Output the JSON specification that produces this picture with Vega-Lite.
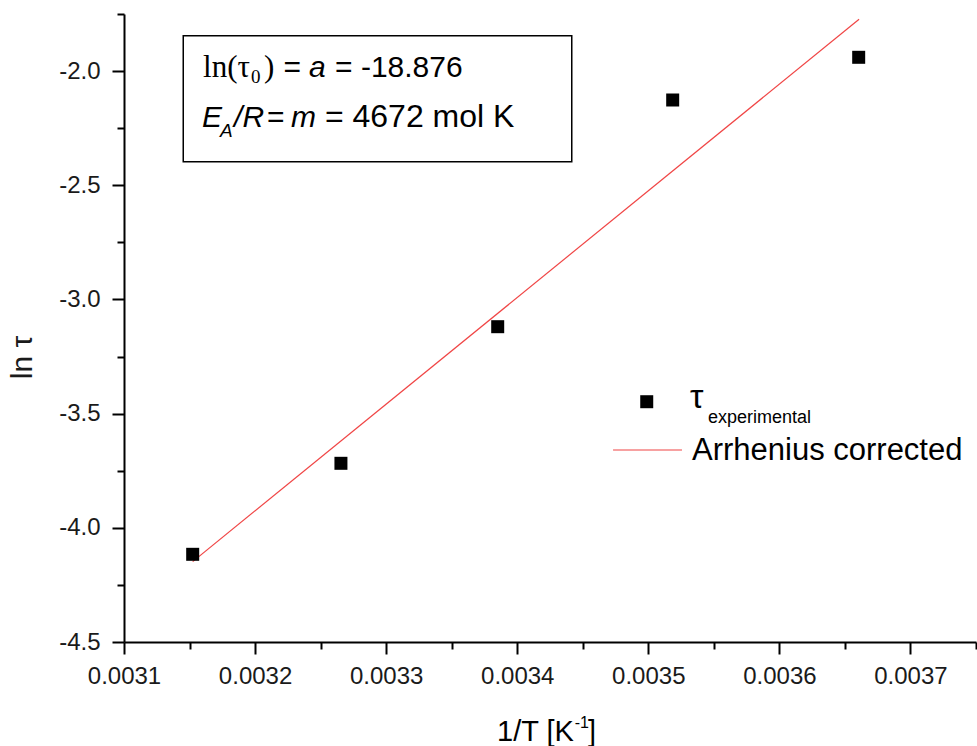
{
  "$schema": "https://vega.github.io/schema/vega-lite/v6.json",
  "width": 852,
  "height": 628,
  "autosize": {"type": "none"},
  "padding": {"left": 124, "top": 14, "right": 1, "bottom": 104},
  "background": "white",
  "config": {"view": {"stroke": null}, "axis": {"grid": false}},
  "datasets": {
    "points": [
      {"invT": 0.0031524, "lnTau": -4.116},
      {"invT": 0.0032655, "lnTau": -3.7175},
      {"invT": 0.0033851, "lnTau": -3.1193},
      {"invT": 0.0035186, "lnTau": -2.1266},
      {"invT": 0.0036605, "lnTau": -1.9396}
    ],
    "fit": [
      {"invT": 0.0031524, "lnTau": -4.148},
      {"invT": 0.0036608, "lnTau": -1.773}
    ]
  },
  "encoding": {
    "x": {"field": "invT", "type": "quantitative",
      "scale": {"domain": [0.0031, 0.00375], "nice": false, "zero": false},
      "axis": {
        "values": [0.0031, 0.00315, 0.0032, 0.00325, 0.0033, 0.00335, 0.0034, 0.00345, 0.0035, 0.00355, 0.0036, 0.00365, 0.0037, 0.00375],
        "labelExpr": "round(datum.value*100000)%10==0 ? format(datum.value,'.4f') : ''",
        "tickSize": {"condition": {"test": "round(datum.value*100000)%10==0", "value": 12}, "value": 7},
        "tickWidth": 2, "tickColor": "black", "domainWidth": 2, "domainColor": "black",
        "labelFont": "Liberation Sans", "labelFontSize": 24, "labelColor": "#1a1a1a",
        "labelPadding": 10, "labelFlush": false, "labelOverlap": false, "title": null
      }
    },
    "y": {"field": "lnTau", "type": "quantitative",
      "scale": {"domain": [-4.5, -1.75], "nice": false, "zero": false},
      "axis": {
        "values": [-4.5, -4.25, -4.0, -3.75, -3.5, -3.25, -3.0, -2.75, -2.5, -2.25, -2.0, -1.75],
        "labelExpr": "round(datum.value*4)%2==0 ? (datum.value<0?'-':'') + format(abs(datum.value),'.1f') : ''",
        "tickSize": {"condition": {"test": "round(datum.value*4)%2==0", "value": 12}, "value": 7},
        "tickWidth": 2, "tickColor": "black", "domainWidth": 2, "domainColor": "black",
        "labelFont": "Liberation Sans", "labelFontSize": 24, "labelColor": "#1a1a1a",
        "labelPadding": 12, "labelFlush": false, "labelOverlap": false,
        "title": "ln τ", "titleFont": "Liberation Sans", "titleFontSize": 30, "titleFontWeight": "normal",
        "titleColor": "#1a1a1a", "titleX": -93, "titleY": 343, "titleAngle": 270,
        "titleAlign": "center", "titleBaseline": "alphabetic"
      }
    }
  },
  "layer": [
    {
      "data": {"values": [{"invT": 0.0031452, "x2": 0.0034416, "lnTau": -1.845, "y2": -2.3968}]},
      "mark": {"type": "rect", "fill": "white", "stroke": "black", "strokeWidth": 1.5},
      "encoding": {"x2": {"field": "x2"}, "y2": {"field": "y2"}}
    },
    {
      "data": {"name": "fit"},
      "mark": {"type": "line", "color": "#f04545", "strokeWidth": 1.2}
    },
    {
      "data": {"name": "points"},
      "mark": {"type": "square", "size": 169, "filled": true, "color": "black", "opacity": 1}
    },
    {
      "data": {"values": [{"invT": 0.0034988, "lnTau": -3.4478}]},
      "mark": {"type": "square", "size": 169, "filled": true, "color": "black", "opacity": 1}
    },
    {
      "data": {"values": [{"invT": 0.0034731, "x2": 0.0035257, "lnTau": -3.6593}]},
      "mark": {"type": "rule", "color": "#f04545", "strokeWidth": 1.2},
      "encoding": {"x2": {"field": "x2"}}
    },
    {
      "data": {"values": [
        {"text": "ln(τ", "invT": 0.0031603, "lnTau": -2.0246},
        {"text": ")", "invT": 0.0032068, "lnTau": -2.0246}
      ]},
      "mark": {"type": "text", "font": "Liberation Serif", "fontSize": 31, "align": "left", "baseline": "alphabetic", "color": "black"},
      "encoding": {"text": {"field": "text"}}
    },
    {
      "data": {"values": [{"text": "0", "invT": 0.0031969, "lnTau": -2.0522}]},
      "mark": {"type": "text", "font": "Liberation Serif", "fontSize": 19, "align": "left", "baseline": "alphabetic", "color": "black"},
      "encoding": {"text": {"field": "text"}}
    },
    {
      "data": {"values": [
        {"text": "=", "invT": 0.0032217, "lnTau": -2.0246},
        {"text": "= -18.876", "invT": 0.003261, "lnTau": -2.0246},
        {"text": "=", "invT": 0.0032091, "lnTau": -2.2435}
      ]},
      "mark": {"type": "text", "font": "Liberation Sans", "fontSize": 30, "align": "left", "baseline": "alphabetic", "color": "black"},
      "encoding": {"text": {"field": "text"}}
    },
    {
      "data": {"values": [
        {"text": "= 4672 mol K", "invT": 0.0032533, "lnTau": -2.2435}
      ]},
      "mark": {"type": "text", "font": "Liberation Sans", "fontSize": 32, "align": "left", "baseline": "alphabetic", "color": "black"},
      "encoding": {"text": {"field": "text"}}
    },
    {
      "data": {"values": [{"text": "τ", "invT": 0.0035318, "lnTau": -3.4753}]},
      "mark": {"type": "text", "font": "Liberation Sans", "fontSize": 34, "align": "left", "baseline": "alphabetic", "color": "black"},
      "encoding": {"text": {"field": "text"}}
    },
    {
      "data": {"values": [
        {"text": "Arrhenius corrected", "invT": 0.0035333, "lnTau": -3.7031}
      ]},
      "mark": {"type": "text", "font": "Liberation Sans", "fontSize": 31, "align": "left", "baseline": "alphabetic", "color": "black"},
      "encoding": {"text": {"field": "text"}}
    },
    {
      "data": {"values": [
        {"text": "1/T [K", "invT": 0.0033846, "lnTau": -4.9336},
        {"text": "]", "invT": 0.003454, "lnTau": -4.9336}
      ]},
      "mark": {"type": "text", "font": "Liberation Sans", "fontSize": 29, "align": "left", "baseline": "alphabetic", "color": "black"},
      "encoding": {"text": {"field": "text"}}
    },
    {
      "data": {"values": [
        {"text": "a", "invT": 0.0032411, "lnTau": -2.0246},
        {"text": "E", "invT": 0.0031595, "lnTau": -2.2435},
        {"text": "/R", "invT": 0.003184, "lnTau": -2.2435},
        {"text": "m", "invT": 0.0032275, "lnTau": -2.2435}
      ]},
      "mark": {"type": "text", "font": "Liberation Sans", "fontSize": 30, "fontStyle": "italic", "align": "left", "baseline": "alphabetic", "color": "black"},
      "encoding": {"text": {"field": "text"}}
    },
    {
      "data": {"values": [{"text": "A", "invT": 0.0031733, "lnTau": -2.2873}]},
      "mark": {"type": "text", "font": "Liberation Sans", "fontSize": 19, "fontStyle": "italic", "align": "left", "baseline": "alphabetic", "color": "black"},
      "encoding": {"text": {"field": "text"}}
    },
    {
      "data": {"values": [{"text": "experimental", "invT": 0.0035455, "lnTau": -3.5424}]},
      "mark": {"type": "text", "font": "Liberation Sans", "fontSize": 18, "align": "left", "baseline": "alphabetic", "color": "black"},
      "encoding": {"text": {"field": "text"}}
    },
    {
      "data": {"values": [{"text": "-1", "invT": 0.0034438, "lnTau": -4.8766}]},
      "mark": {"type": "text", "font": "Liberation Sans", "fontSize": 16, "align": "left", "baseline": "alphabetic", "color": "black"},
      "encoding": {"text": {"field": "text"}}
    }
  ]
}
